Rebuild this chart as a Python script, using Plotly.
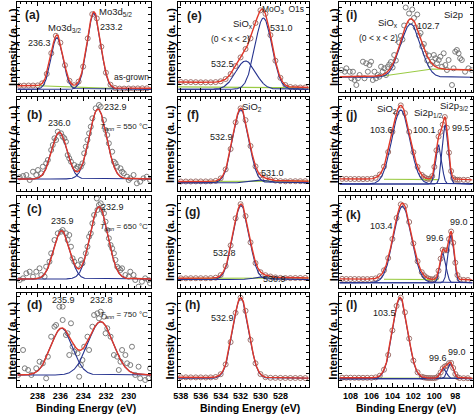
import numpy as np
import plotly.graph_objects as go

# ---------------- measured spectra: binding energy (eV), intensity (a.u.) ----------------
# Mo3d (a: as-grown, b: 550 C, c: 650 C, d: 750 C)
a_E = [239.6, 239.2, 238.8, 238.4, 238.0, 237.6, 237.2, 236.8, 236.4, 236.0, 235.6, 235.2, 234.8, 234.4,
       234.0, 233.6, 233.2, 232.8, 232.4, 232.0, 231.6, 231.2, 230.8, 230.4, 230.0, 229.6, 229.2, 228.8, 228.4]
a_I = [5.8, 5.9, 6.0, 6.0, 6.1, 8.2, 17.6, 38.3, 55.7, 48.8, 26.3, 10.7, 6.3, 9.9,
       24.9, 53.1, 77.3, 73.1, 44.8, 18.8, 6.8, 3.5, 2.9, 2.9, 3.0, 3.0, 3.1, 3.2, 3.2]

b_E = [239.57, 239.28, 238.99, 238.70, 238.41, 238.12, 237.97, 237.68, 237.54, 237.25,
       237.10, 236.81, 236.67, 236.52, 236.38, 236.23, 235.94, 235.80, 235.65, 235.51,
       235.36, 235.22, 235.07, 234.78, 234.64, 234.49, 234.20, 234.06, 233.91, 233.77,
       233.62, 233.48, 233.33, 233.19, 232.90, 232.61, 232.46, 232.17, 232.03, 231.88,
       231.74, 231.45, 231.30, 231.16, 231.01, 230.72, 230.58, 230.43, 230.14, 230.00,
       229.86, 229.57, 229.28, 228.99, 228.70, 228.41, 228.12]
b_I = [13.4, 14.7, 15.7, 10.7, 19.0, 15.7, 20.7, 17.4, 24.0, 27.4,
       30.7, 40.7, 45.7, 52.4, 50.7, 59.0, 57.4, 54.0, 52.4, 49.0,
       35.7, 32.4, 29.0, 25.7, 22.4, 24.0, 24.0, 27.4, 37.4, 44.0,
       50.7, 57.4, 64.0, 72.4, 82.4, 85.7, 84.0, 70.7, 60.7, 55.7,
       47.4, 39.0, 29.0, 27.4, 24.0, 22.4, 19.0, 17.4, 14.0, 10.7,
       12.4, 15.7, 7.4, 9.0, 12.4, 14.0, 10.7]

c_E = [239.57, 239.28, 238.99, 238.70, 238.41, 238.12, 237.83, 237.68, 237.39, 237.25,
       236.96, 236.81, 236.52, 236.23, 235.94, 235.80, 235.51, 235.36, 235.22, 235.07,
       234.93, 234.78, 234.49, 234.20, 234.06, 233.77, 233.62, 233.48, 233.33, 233.19,
       233.04, 232.75, 232.61, 232.46, 232.32, 232.17, 232.03, 231.88, 231.74, 231.59,
       231.45, 231.30, 231.16, 231.01, 230.87, 230.72, 230.58, 230.29, 230.00, 229.86,
       229.57, 229.42, 229.13, 228.84, 228.55, 228.26, 228.12, 232.80]
c_I = [7.5, 9.2, 14.2, 15.8, 10.8, 15.8, 19.2, 12.5, 10.8, 20.8,
       25.8, 34.2, 47.5, 54.2, 55.8, 57.5, 54.2, 47.5, 52.5, 40.8,
       29.2, 25.8, 22.5, 27.5, 24.2, 34.2, 40.8, 50.8, 54.2, 64.2,
       72.5, 77.5, 82.5, 84.2, 77.5, 74.2, 65.8, 57.5, 49.2, 42.5,
       39.2, 34.2, 27.5, 20.8, 19.2, 17.5, 19.2, 12.5, 10.8, 15.8,
       12.5, 7.5, 0.8, 5.8, 9.2, 7.5, 4.2, 89.0]

d_E = [239.71, 239.28, 239.13, 238.84, 238.55, 238.12, 237.83, 237.54, 237.25, 237.10,
       236.81, 236.52, 236.38, 236.09, 235.80, 235.80, 235.51, 235.36, 235.22, 235.07,
       234.93, 234.78, 234.49, 234.35, 234.20, 234.06, 233.91, 233.62, 233.48, 233.19,
       233.04, 232.75, 232.61, 232.46, 232.17, 232.03, 231.88, 231.59, 231.30, 231.01,
       230.87, 230.72, 230.58, 230.29, 230.14, 229.86, 229.71, 229.42, 229.13, 228.99,
       228.55, 228.26, 228.12]
d_I = [12.0, 37.0, 18.7, 17.0, 12.0, 18.7, 25.3, 23.7, 8.7, 30.3,
       50.3, 60.3, 62.0, 80.3, 80.3, 67.0, 52.0, 53.7, 32.0, 63.7,
       40.3, 35.3, 33.7, 10.3, 22.0, 27.0, 40.3, 50.3, 37.0, 60.3,
       72.0, 73.7, 68.7, 75.3, 70.3, 53.7, 58.7, 50.3, 32.0, 30.3,
       17.0, 25.3, 37.0, 32.0, 23.7, 22.0, 40.3, 12.0, 20.3, 8.7,
       7.0, 8.7, 18.7]

# O1s (e, f, g, h)
o_E = [538.0, 537.5, 537.0, 536.5, 536.0, 535.5, 535.0, 534.5, 534.0, 533.5, 533.0, 532.5, 532.0,
       531.5, 531.0, 530.5, 530.0, 529.5, 529.0, 528.5, 528.0, 527.5, 527.0, 526.5, 526.0, 525.5]
e_I = [9.5, 9.4, 9.4, 9.3, 9.2, 9.2, 9.2, 9.4, 10.2, 12.5, 17.5, 25.5, 34.1,
       42.5, 53.1, 68.5, 81.2, 77.7, 56.4, 30.8, 13.7, 6.5, 4.5, 4.1, 4.0, 4.0]
f_I = [9.2, 9.2, 9.2, 9.3, 9.3, 9.3, 9.4, 9.8, 12.3, 21.3, 41.7, 68.4, 82.3,
       70.6, 44.7, 24.3, 15.4, 12.5, 11.1, 10.1, 9.6, 9.4, 9.5, 9.5, 9.5, 9.5]
g_I = [9.2, 9.2, 9.3, 9.3, 9.3, 9.3, 9.4, 9.8, 12.4, 21.5, 42.1, 69.2, 83.3,
       71.4, 45.1, 24.4, 15.3, 12.3, 11.0, 10.1, 9.6, 9.4, 9.4, 9.5, 9.5, 9.5]
h_I = [9.7, 9.7, 9.6, 9.6, 9.6, 9.5, 9.6, 10.0, 12.8, 22.6, 44.9, 74.2, 89.3,
       76.2, 47.1, 23.7, 12.9, 9.8, 9.2, 9.1, 9.1, 9.0, 9.0, 9.0, 9.0, 8.9]

# Si2p (i, j, k, l)
i_E = [108.86, 108.54, 108.39, 108.07, 107.91, 107.76, 107.60, 107.44, 107.29, 107.13,
       106.81, 106.66, 106.50, 106.34, 106.19, 106.03, 105.87, 105.71, 105.56, 105.40,
       105.24, 105.08, 104.93, 104.77, 104.61, 104.46, 104.30, 104.14, 103.98, 103.83,
       103.67, 103.35, 103.20, 103.04, 102.88, 102.73, 102.41, 102.25, 102.10, 101.94,
       101.78, 101.63, 101.47, 101.31, 101.15, 101.00, 100.84, 100.68, 100.53, 100.37,
       100.21, 100.05, 99.90, 99.74, 99.58, 99.42, 99.27, 99.11, 98.95, 98.80,
       98.64, 98.32, 98.17, 98.01, 97.85, 97.69, 97.54, 97.38, 97.07, 96.75, 96.43]
i_I = [21.5, 19.8, 23.2, 19.8, 13.2, 19.8, 11.5, 6.5, 13.2, 16.5,
       29.8, 13.2, 28.2, 19.8, 26.5, 29.8, 11.5, 19.8, 13.2, 16.5,
       14.8, 24.8, 19.8, 23.2, 16.5, 24.5, 27.0, 29.5, 24.0, 36.5,
       31.0, 49.0, 55.5, 52.0, 66.0, 84.0, 78.0, 70.0, 82.0, 73.5,
       64.0, 77.0, 56.0, 58.5, 45.0, 47.5, 38.0, 31.0, 36.0, 27.0,
       29.8, 36.5, 33.2, 28.2, 31.5, 34.8, 24.8, 38.2, 26.5, 21.5,
       31.5, 6.5, 23.2, 39.8, 41.5, 38.2, 33.2, 31.5, 19.8, 23.2, 21.5]

s_E = [108.8, 108.4, 108.0, 107.6, 107.2, 106.8, 106.4, 106.0, 105.6, 105.2,
       104.8, 104.4, 104.0, 103.6, 103.2, 102.8, 102.4, 102.0, 101.6, 101.2,
       101.0, 100.8, 100.6, 100.4, 100.2, 100.0, 99.8, 99.6, 99.4, 99.2,
       99.0, 98.8, 98.6, 98.4, 98.2, 98.0, 97.8, 97.6, 97.2, 96.8]
j_I = [11.8, 11.8, 11.7, 11.7, 11.7, 11.6, 11.7, 11.9, 12.9, 16.2,
       24.1, 38.7, 58.9, 77.6, 85.3, 77.5, 58.8, 38.5, 23.8, 15.8,
       13.8, 12.5, 11.8, 12.0, 14.6, 23.8, 40.4, 54.1, 58.9, 66.1,
       73.7, 62.9, 38.1, 19.6, 12.6, 11.1, 10.9, 10.9, 10.9, 10.8]
k_I = [8.6, 8.5, 8.5, 8.5, 8.4, 8.4, 8.4, 8.5, 9.1, 11.3,
       17.2, 29.4, 48.5, 69.5, 83.1, 81.4, 65.5, 44.1, 26.2, 15.3,
       12.2, 10.3, 9.1, 8.5, 8.1, 8.3, 10.2, 16.8, 28.8, 37.8,
       37.1, 37.2, 48.4, 56.0, 44.7, 24.8, 12.4, 8.4, 7.6, 7.5]
l_I = [9.3, 9.3, 9.3, 9.2, 9.2, 9.2, 9.2, 9.2, 9.6, 11.3,
       17.3, 32.1, 56.6, 81.1, 89.3, 74.7, 48.4, 26.4, 14.7, 10.3,
       9.6, 9.2, 9.0, 9.0, 8.9, 8.9, 9.4, 11.0, 14.6, 18.7,
       20.5, 21.4, 23.9, 24.1, 19.0, 13.0, 9.9, 9.0, 8.8, 8.8]

# ---------------- fit results: peak centre (eV), amplitude (a.u.), sigma (eV) ----------------
a_pk_E = [236.3, 233.05];          a_pk_A = [51.5, 76.0];        a_pk_S = [0.53, 0.59]
b_pk_E = [236.09, 232.7];          b_pk_A = [46.7, 70.0];        b_pk_S = [0.68, 0.76]
c_pk_E = [235.89, 232.6];          c_pk_A = [48.3, 72.3];        c_pk_S = [0.70, 0.78]
d_pk_E = [235.89, 232.46];         d_pk_A = [46.7, 53.3];        d_pk_S = [0.95, 1.10]
e_pk_E = [531.5, 529.7];           e_pk_A = [28.3, 71.3];        e_pk_S = [1.0, 0.85]
f_pk_E = [531.98, 529.8];          f_pk_A = [73.0, 2.7];         f_pk_S = [0.8, 0.8]
g_pk_E = [531.95, 529.8];          g_pk_A = [74.0, 2.5];         g_pk_S = [0.8, 0.8]
h_pk_E = [531.98];                 h_pk_A = [80.0];              h_pk_S = [0.8]
i_pk_E = [102.25];                 i_pk_A = [53.3];              i_pk_S = [0.95]
j_pk_E = [103.2, 99.58, 98.95];    j_pk_A = [74.0, 39.0, 59.0];  j_pk_S = [0.85, 0.28, 0.28]
k_pk_E = [103.04, 99.17, 98.4];    k_pk_A = [76.3, 29.4, 47.7];  k_pk_S = [0.85, 0.28, 0.28]
l_pk_E = [103.26, 99.1, 98.45];    l_pk_A = [80.5, 10.0, 15.0];  l_pk_S = [0.72, 0.28, 0.28]

# component baseline levels and background knots (E descending)
a_base, b_base, c_base, d_base = 2.2, 11.7, 8.5, 12.0
e_base, f_base, g_base, h_base = 2.2, 8.0, 8.0, 8.7
i_base, j_base, k_base, l_base = 14.2, 6.7, 4.8, 8.4

a_bg_E = [239.8, 238.5, 231.0, 228.0];                      a_bg_I = [5.8, 6.0, 2.8, 3.3]
b_bg_E = [239.8, 228.0];                                    b_bg_I = [11.7, 11.7]
c_bg_E = [239.8, 228.0];                                    c_bg_I = [8.5, 8.5]
d_bg_E = [239.8, 228.0];                                    d_bg_I = [12.0, 12.0]
e_bg_E = [538.3, 534.0, 532.5, 531.0, 529.5, 528.0, 525.1]; e_bg_I = [9.5, 9.0, 8.0, 6.0, 4.5, 4.0, 4.0]
f_bg_E = [538.3, 525.1];                                    f_bg_I = [9.2, 9.5]
g_bg_E = [538.3, 525.1];                                    g_bg_I = [9.2, 9.5]
h_bg_E = [538.3, 525.1];                                    h_bg_I = [9.7, 8.9]
i_bg_E = [109.1, 104.9, 100.2, 96.3];                       i_bg_I = [14.8, 15.5, 22.5, 21.5]
j_bg_E = [109.1, 96.3];                                     j_bg_I = [11.8, 10.8]
k_bg_E = [109.1, 96.3];                                     k_bg_I = [8.6, 7.5]
l_bg_E = [109.1, 96.3];                                     l_bg_I = [9.3, 8.8]

# drawn background (green) lines
a_gr_E = [238.5, 231.0];        a_gr_I = [6.0, 2.8]
e_gr_E = [538.3, 525.1];        e_gr_I = [4.6, 3.6]
f_gr_E = [538.3, 525.1];        f_gr_I = [9.2, 9.5]
g_gr_E = [538.3, 525.1];        g_gr_I = [9.2, 9.5]
i_gr_E = [104.9, 100.2, 96.3];  i_gr_I = [15.5, 22.5, 21.5]
j_gr_E = [104.8, 99.6];         j_gr_I = [11.46, 11.05]
k_gr_E = [104.8, 99.6];         k_gr_I = [8.23, 7.78]
l_gr_E = [109.1, 96.3];         l_gr_I = [9.0, 8.75]

panels = {
    'a': (a_E, a_I, a_pk_E, a_pk_A, a_pk_S, a_base, a_bg_E, a_bg_I, a_gr_E, a_gr_I),
    'b': (b_E, b_I, b_pk_E, b_pk_A, b_pk_S, b_base, b_bg_E, b_bg_I, [], []),
    'c': (c_E, c_I, c_pk_E, c_pk_A, c_pk_S, c_base, c_bg_E, c_bg_I, [], []),
    'd': (d_E, d_I, d_pk_E, d_pk_A, d_pk_S, d_base, d_bg_E, d_bg_I, [], []),
    'e': (o_E, e_I, e_pk_E, e_pk_A, e_pk_S, e_base, e_bg_E, e_bg_I, e_gr_E, e_gr_I),
    'f': (o_E, f_I, f_pk_E, f_pk_A, f_pk_S, f_base, f_bg_E, f_bg_I, f_gr_E, f_gr_I),
    'g': (o_E, g_I, g_pk_E, g_pk_A, g_pk_S, g_base, g_bg_E, g_bg_I, g_gr_E, g_gr_I),
    'h': (o_E, h_I, h_pk_E, h_pk_A, h_pk_S, h_base, h_bg_E, h_bg_I, [], []),
    'i': (i_E, i_I, i_pk_E, i_pk_A, i_pk_S, i_base, i_bg_E, i_bg_I, i_gr_E, i_gr_I),
    'j': (s_E, j_I, j_pk_E, j_pk_A, j_pk_S, j_base, j_bg_E, j_bg_I, j_gr_E, j_gr_I),
    'k': (s_E, k_I, k_pk_E, k_pk_A, k_pk_S, k_base, k_bg_E, k_bg_I, k_gr_E, k_gr_I),
    'l': (s_E, l_I, l_pk_E, l_pk_A, l_pk_S, l_base, l_bg_E, l_bg_I, l_gr_E, l_gr_I),
}
noisy = {'b', 'c', 'd', 'i'}

TA = "<i>T</i><sub><i>ann</i></sub> = "
labels = {
    'a': [("<b>(a)</b>", 238.48, 76.5, 12, 'center'), ("Mo3d<sub>3/2</sub>", 235.65, 63.5, 9.5, 'center'),
          ("236.3", 237.83, 48.5, 9, 'center'), ("Mo3d<sub>5/2</sub>", 231.13, 79.5, 9.5, 'center'),
          ("233.2", 231.48, 64.5, 9, 'center'), ("as-grown", 229.78, 14.5, 8.5, 'center')],
    'b': [("<b>(b)</b>", 238.3, 75.7, 12, 'center'), ("236.0", 236.09, 67.7, 9, 'center'),
          ("232.9", 231.13, 83.7, 9, 'center'), (TA + "550 °C", 228.1, 63.7, 8, 'right')],
    'c': [("<b>(c)</b>", 238.3, 79.0, 12, 'center'), ("235.9", 235.8, 66.5, 9, 'center'),
          ("232.9", 231.45, 80.2, 9, 'center'), (TA + "650 °C", 228.1, 60.2, 8, 'right')],
    'd': [("<b>(d)</b>", 238.3, 82.0, 12, 'center'), ("235.9", 235.74, 87.0, 9, 'center'),
          ("232.8", 232.39, 87.0, 9, 'center'), (TA + "750 °C", 228.1, 72.0, 8, 'right')],
    'e': [("<b>(e)</b>", 536.6, 75.5, 12, 'center'), ("SiO<sub>x</sub>", 531.73, 67.5, 9.5, 'center'),
          ("(0 &lt; x &lt; 2)", 532.97, 52.2, 8.5, 'center'),
          ("MoO<sub>3</sub>\u00a0\u00a0O1s", 525.45, 82.2, 8.5, 'right'),
          ("531.0", 527.91, 63.2, 9, 'center'), ("532.5", 533.8, 27.2, 9, 'center')],
    'f': [("<b>(f)</b>", 536.78, 75.7, 12, 'center'), ("SiO<sub>2</sub>", 530.9, 83.4, 9.5, 'center'),
          ("532.9", 533.96, 54.0, 9, 'center'), ("531.0", 528.75, 18.0, 9, 'center')],
    'g': [("<b>(g)</b>", 536.78, 75.5, 12, 'center'), ("532.8", 533.65, 34.5, 9, 'center'),
          ("530.9", 528.63, 8.5, 9, 'center')],
    'h': [("<b>(h)</b>", 536.86, 82.0, 12, 'center'), ("532.9", 533.8, 68.7, 9, 'center')],
    'i': [("<b>(i)</b>", 107.9, 76.5, 12, 'center'), ("SiO<sub>x</sub>", 104.38, 68.2, 9.5, 'center'),
          ("(0 &lt; x &lt; 2)", 105.32, 53.2, 8.5, 'center'), ("102.7", 100.6, 65.5, 9, 'center'),
          ("Si2p", 98.17, 77.5, 9.5, 'center')],
    'j': [("<b>(j)</b>", 107.9, 75.7, 12, 'center'), ("SiO<sub>2</sub>", 104.47, 81.4, 9.5, 'center'),
          ("103.6", 105.08, 60.7, 9, 'center'), ("Si2p<sub>1/2</sub>", 100.53, 77.4, 9.5, 'center'),
          ("100.1", 100.92, 60.7, 9, 'center'), ("Si2p<sub>3/2</sub>", 96.5, 84.7, 9.5, 'right'),
          ("99.5", 97.46, 62.4, 9, 'center')],
    'k': [("<b>(k)</b>", 107.75, 72.5, 12, 'center'), ("103.4", 105.08, 61.5, 9, 'center'),
          ("99.6", 99.97, 49.2, 9, 'center'), ("99.0", 97.61, 65.8, 9, 'center')],
    'l': [("<b>(l)</b>", 107.9, 82.0, 12, 'center'), ("103.5", 104.77, 73.7, 9, 'center'),
          ("99.6", 99.66, 28.7, 9, 'center'), ("99.0", 97.85, 35.3, 9, 'center')],
}

# ---------------- layout geometry ----------------
W, H = 474, 416
FONT = "Liberation Sans, Arial, Helvetica, sans-serif"
RED, BLUE, GREEN = "#e0392a", "#26338f", "#9bcb45"
MARK_NOISY, MARK_SMOOTH = "#6e6e6e", "#94645f"
order = ['a', 'e', 'i', 'b', 'f', 'j', 'c', 'g', 'k', 'd', 'h', 'l']
COLS = [(12.5, 148.0), (175.0, 307.0), (338.0, 472.5)]
ROWS = [(1.5, 91.5), (96.8, 190.7), (196.0, 287.5), (293.3, 387.0)]
XR = [(239.78, 228.0), (538.27, 525.15), (109.05, 96.36)]
XL = [[230, 232, 234, 236, 238], [528, 530, 532, 534, 536, 538], [98, 100, 102, 104, 106, 108]]
YT_X = [7.5, 167.0, 332.0]
XT_C = [82.0, 247.5, 405.0]

fig = go.Figure()
layout = dict(width=W, height=H, margin=dict(l=0, r=0, t=0, b=0), paper_bgcolor='white',
              plot_bgcolor='white', showlegend=False, annotations=[],
              font=dict(family=FONT, color='black'))

for n, key in enumerate(order, start=1):
    r, c = divmod(n - 1, 3)
    E, I, pkE, pkA, pkS, base, bgE, bgI, grE, grI = panels[key]
    sx = '' if n == 1 else str(n)
    xref, yref = 'x' + sx, 'y' + sx
    x0, x1 = XR[c]
    grid = np.linspace(x1, x0, 700)
    comps = [A * np.exp(-(grid - E0) ** 2 / (2 * S * S)) for E0, A, S in zip(pkE, pkA, pkS)]
    bg = np.interp(grid, bgE[::-1], bgI[::-1])
    mcol = MARK_NOISY if key in noisy else MARK_SMOOTH

    fig.add_trace(go.Scatter(x=E, y=I, mode='markers', xaxis=xref, yaxis=yref, hoverinfo='skip',
                             marker=dict(symbol='circle-open', size=5, color=mcol,
                                         line=dict(width=0.9, color=mcol))))
    if grE:
        fig.add_trace(go.Scatter(x=grE, y=grI, mode='lines', xaxis=xref, yaxis=yref,
                                 line=dict(color=GREEN, width=1.2), hoverinfo='skip'))
    for comp in comps:
        fig.add_trace(go.Scatter(x=grid, y=base + comp, mode='lines', xaxis=xref, yaxis=yref,
                                 line=dict(color=BLUE, width=1.1), hoverinfo='skip'))
    fig.add_trace(go.Scatter(x=grid, y=bg + np.sum(comps, axis=0), mode='lines', xaxis=xref, yaxis=yref,
                             line=dict(color=RED, width=1.4), hoverinfo='skip'))

    h = ROWS[r][1] - ROWS[r][0]
    layout['xaxis' + sx] = dict(
        domain=[COLS[c][0] / W, COLS[c][1] / W], range=[x0, x1], anchor=yref,
        tickmode='array', tickvals=XL[c], ticktext=[f'<b>{v}</b>' for v in XL[c]],
        showticklabels=(r == 3), ticks='inside', ticklen=4, tickwidth=1, tickcolor='black',
        mirror='ticks', showline=True, linecolor='black', linewidth=1,
        showgrid=False, zeroline=False, tickfont=dict(family=FONT, size=9, color='black'),
        minor=dict(ticks='inside', ticklen=2, tickmode='linear', tick0=0, dtick=0.5,
                   tickcolor='black', showgrid=False))
    layout['yaxis' + sx] = dict(
        domain=[1 - ROWS[r][1] / H, 1 - ROWS[r][0] / H], range=[0, h], anchor=xref,
        ticks='inside', ticklen=3, tickmode='linear', tick0=0, dtick=7, tickcolor='black',
        showticklabels=False, mirror='ticks', showline=True, linecolor='black', linewidth=1,
        showgrid=False, zeroline=False)

    for text, lx, ly, size, anc in labels[key]:
        layout['annotations'].append(dict(text=text, x=lx, y=ly, xref=xref, yref=yref, showarrow=False,
                                          xanchor=anc, yanchor='middle',
                                          font=dict(family=FONT, size=size, color='#1a1a1a')))
    layout['annotations'].append(dict(text='<b>Intensity (a. u.)</b>', x=YT_X[c] / W,
                                      y=1 - (ROWS[r][0] + ROWS[r][1]) / 2 / H, xref='paper', yref='paper',
                                      textangle=-90, showarrow=False, xanchor='center', yanchor='middle',
                                      font=dict(family=FONT, size=11, color='black')))

for c in range(3):
    layout['annotations'].append(dict(text='<b>Binding Energy (eV)</b>', x=XT_C[c] / W, y=1 - 408 / H,
                                      xref='paper', yref='paper', showarrow=False,
                                      xanchor='center', yanchor='middle',
                                      font=dict(family=FONT, size=10.5, color='black')))

fig.update_layout(**layout)
fig.write_html("out.html", config={'displayModeBar': False, 'staticPlot': True},
               post_script="document.body.style.margin='0';document.body.style.padding='0';"
                           "document.body.style.overflow='hidden';")
